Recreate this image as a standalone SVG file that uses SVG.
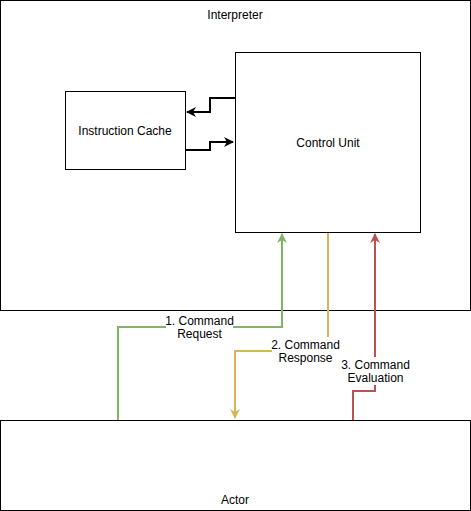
<svg xmlns="http://www.w3.org/2000/svg" width="471" height="511" viewBox="0 0 471 511">
<style>
.box{fill:#fff;stroke:#000;stroke-width:1}
text{font-family:"Liberation Sans",Arial,sans-serif;font-size:12px;fill:#000;text-anchor:middle}
.c{fill:none;stroke-width:2}
.lbl{fill:#fff;stroke:none}
</style>
<defs>
<marker id="ab" viewBox="0 0 10 10" refX="9" refY="5" markerWidth="5" markerHeight="5" orient="auto" markerUnits="strokeWidth"><path d="M0,0 L10,5 L0,10 L3,5 Z" fill="#000"/></marker>
<marker id="ag" viewBox="0 0 10 10" refX="9" refY="5" markerWidth="5" markerHeight="5" orient="auto" markerUnits="strokeWidth"><path d="M0,0 L10,5 L0,10 L3,5 Z" fill="#82b366"/></marker>
<marker id="ay" viewBox="0 0 10 10" refX="9" refY="5" markerWidth="5" markerHeight="5" orient="auto" markerUnits="strokeWidth"><path d="M0,0 L10,5 L0,10 L3,5 Z" fill="#d6b656"/></marker>
<marker id="ar" viewBox="0 0 10 10" refX="9" refY="5" markerWidth="5" markerHeight="5" orient="auto" markerUnits="strokeWidth"><path d="M0,0 L10,5 L0,10 L3,5 Z" fill="#b85450"/></marker>
</defs>
<g id="interpreter"><rect class="box" x="0.5" y="0.5" width="470" height="310"/><text x="235" y="19">Interpreter</text></g>
<g id="control-unit"><rect class="box" x="235.5" y="52.5" width="185" height="180"/><text x="328" y="147">Control Unit</text></g>
<g id="instruction-cache"><rect class="box" x="65.5" y="91.5" width="120" height="78"/><text x="125" y="135">Instruction Cache</text></g>
<g id="actor"><rect class="box" x="0.5" y="420.5" width="470" height="90"/><text x="235" y="504">Actor</text></g>
<g id="connectors">
<path class="c" stroke="#000" d="M235,98 H210 V112 H187" marker-end="url(#ab)"/>
<path class="c" stroke="#000" d="M186,150 H210 V142 H233" marker-end="url(#ab)"/>
<path class="c" stroke="#82b366" d="M118,420 V327 H282 V234" marker-end="url(#ag)"/>
<path class="c" stroke="#d6b656" d="M328,233 V351 H235 V418" marker-end="url(#ay)"/>
<path class="c" stroke="#b85450" d="M353,420 V391 H375 V234" marker-end="url(#ar)"/>
<rect class="lbl" x="166" y="313" width="67" height="28"/>
<text x="199.5" y="325">1. Command</text><text x="199.5" y="338">Request</text>
<rect class="lbl" x="272" y="337" width="67" height="28"/>
<text x="305.5" y="349">2. Command</text><text x="305.5" y="362">Response</text>
<rect class="lbl" x="342" y="357" width="67" height="28"/>
<text x="375.5" y="369">3. Command</text><text x="375.5" y="382">Evaluation</text>
</g>
</svg>
